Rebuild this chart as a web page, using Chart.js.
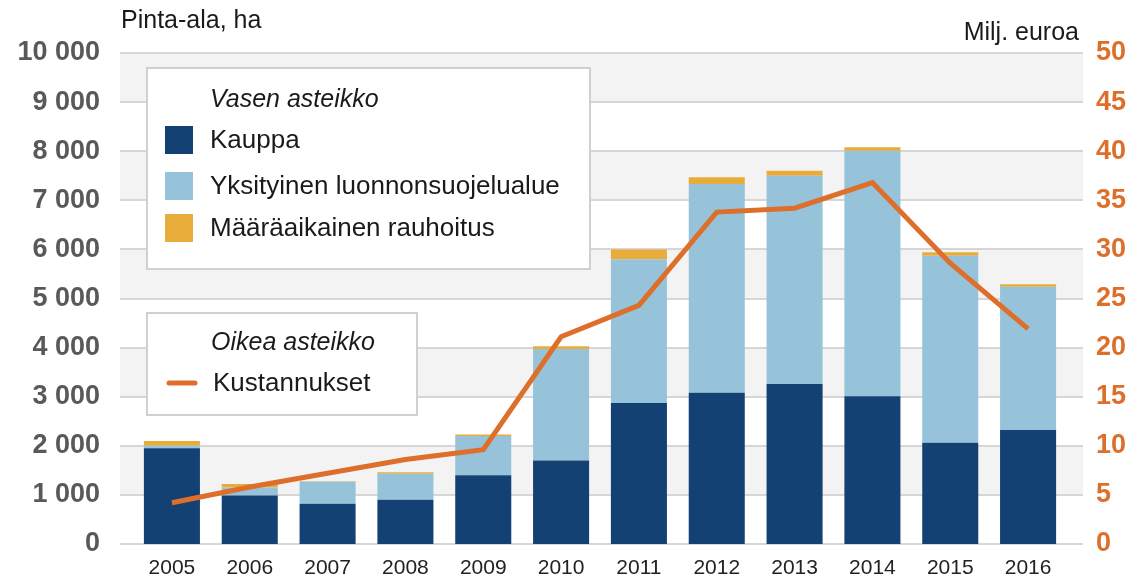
<!DOCTYPE html>
<html>
<head>
<meta charset="utf-8">
<script src="https://cdn.jsdelivr.net/npm/chart.js@4"></script>
<style>
  body { margin: 0; background: #fff; }
  canvas { display: block; }
</style>
</head>
<body>
<canvas id="chart" width="1137" height="578"></canvas>
<script>
// data
const years = ['2005', '2006', '2007', '2008', '2009', '2010', '2011', '2012', '2013', '2014', '2015', '2016'];
const kauppa = [1950, 990, 820, 900, 1400, 1700, 2870, 3080, 3260, 3010, 2060, 2320];
const yksityinen = [50, 160, 450, 530, 800, 2270, 2930, 4250, 4240, 5000, 3810, 2920];
const maaraaikainen = [100, 70, 10, 30, 30, 60, 200, 140, 100, 70, 70, 50];
const kustannukset = [4.2, 5.8, 7.2, 8.6, 9.6, 21.1, 24.3, 33.8, 34.2, 36.8, 28.6, 21.9];

const FONT = "'Liberation Sans', Arial, sans-serif";
const DARK = '#134173';
const LIGHT = '#96c3d9';
const YELLOW = '#e8ac3a';
const ORANGE = '#dd6f2a';

function fmt(v) {
    return String(v).replace(/\B(?=(\d{3})+(?!\d))/g, ' ');
}

// taustan raidat ja ruudukko
const bandsPlugin = {
    id: 'bands',
    beforeDatasetsDraw(chart) {
        const ctx = chart.ctx;
        const y = chart.scales.y;
        ctx.save();
        for (let v = 0; v < 10000; v += 1000) {
            if ((v / 1000) % 2 === 1) {
                ctx.fillStyle = '#f3f3f3';
                const top = y.getPixelForValue(v + 1000);
                ctx.fillRect(120, top, 963, y.getPixelForValue(v) - top);
            }
        }
        ctx.strokeStyle = '#d6d6d6';
        ctx.lineWidth = 2;
        for (let v = 0; v <= 10000; v += 1000) {
            const py = Math.round(y.getPixelForValue(v));
            ctx.beginPath();
            ctx.moveTo(120, py);
            ctx.lineTo(1083, py);
            ctx.stroke();
        }
        ctx.restore();
    }
};

// selitelaatikot ja otsikot
const legendPlugin = {
    id: 'boxes',
    afterDatasetsDraw(chart) {
        const ctx = chart.ctx;
        ctx.save();
        ctx.fillStyle = '#fff';
        ctx.strokeStyle = '#d0d0d0';
        ctx.lineWidth = 2;
        ctx.fillRect(147, 68, 443, 201);
        ctx.strokeRect(147, 68, 443, 201);
        ctx.fillRect(147, 313, 270, 102);
        ctx.strokeRect(147, 313, 270, 102);

        ctx.textBaseline = 'middle';
        ctx.textAlign = 'left';
        ctx.fillStyle = '#1a1a1a';
        ctx.font = 'italic 25px ' + FONT;
        ctx.fillText('Vasen asteikko', 210, 100);
        ctx.fillText('Oikea asteikko', 211, 343);

        const items = [['Kauppa', DARK, 140], ['Yksityinen luonnonsuojelualue', LIGHT, 186], ['Määräaikainen rauhoitus', YELLOW, 228]];
        ctx.font = '26px ' + FONT;
        items.forEach(([label, color, cy]) => {
            ctx.fillStyle = color;
            ctx.fillRect(165, cy - 14, 28, 28);
            ctx.fillStyle = '#1a1a1a';
            ctx.fillText(label, 210, cy + 1);
        });

        ctx.strokeStyle = ORANGE;
        ctx.lineWidth = 5;
        ctx.lineCap = 'round';
        ctx.beginPath();
        ctx.moveTo(169, 383);
        ctx.lineTo(195, 383);
        ctx.stroke();
        ctx.fillStyle = '#1a1a1a';
        ctx.fillText('Kustannukset', 213, 384);

        ctx.font = '25px ' + FONT;
        ctx.fillText('Pinta-ala, ha', 121, 21);
        ctx.textAlign = 'right';
        ctx.fillText('Milj. euroa', 1079, 33);
        ctx.restore();
    }
};

new Chart(document.getElementById('chart').getContext('2d'), {
    type: 'bar',
    data: {
        labels: years,
        datasets: [
            { label: 'Kustannukset', type: 'line', data: kustannukset, yAxisID: 'y1',
              borderColor: ORANGE, borderWidth: 5, pointRadius: 0, tension: 0, order: 0 },
            { label: 'Kauppa', data: kauppa, backgroundColor: DARK, stack: 's', order: 1 },
            { label: 'Yksityinen luonnonsuojelualue', data: yksityinen, backgroundColor: LIGHT, stack: 's', order: 1 },
            { label: 'Määräaikainen rauhoitus', data: maaraaikainen, backgroundColor: YELLOW, stack: 's', order: 1 }
        ]
    },
    options: {
        responsive: false,
        devicePixelRatio: 1,
        animation: false,
        layout: { padding: { top: 53, left: 0, right: 0, bottom: 0 } },
        datasets: { bar: { barPercentage: 0.72, categoryPercentage: 1 } },
        plugins: { legend: { display: false }, tooltip: { enabled: false } },
        scales: {
            x: {
                stacked: true,
                grid: { display: false, drawTicks: false },
                border: { display: false },
                ticks: { color: '#222', padding: 12, font: { family: "'Liberation Sans Narrow', " + FONT, size: 21 } },
                afterFit(s) { s.height = 34; s.paddingLeft = 0; s.paddingRight = 0; }
            },
            y: {
                stacked: true,
                min: 0, max: 10000,
                grid: { display: false, drawTicks: false },
                border: { display: false },
                ticks: { stepSize: 1000, padding: 33, color: '#595959',
                         font: { family: FONT, size: 27, weight: 'bold' }, callback: v => fmt(v) },
                afterFit(s) { s.width = 133; s.paddingTop = 0; s.paddingBottom = 0; }
            },
            y1: {
                position: 'right',
                min: 0, max: 50,
                grid: { display: false, drawTicks: false },
                border: { display: false },
                ticks: { stepSize: 5, padding: 29, color: '#dd6f2a',
                         font: { family: FONT, size: 27, weight: 'bold' } },
                afterFit(s) { s.width = 70; s.paddingTop = 0; s.paddingBottom = 0; }
            }
        }
    },
    plugins: [bandsPlugin, legendPlugin]
});
</script>
</body>
</html>
